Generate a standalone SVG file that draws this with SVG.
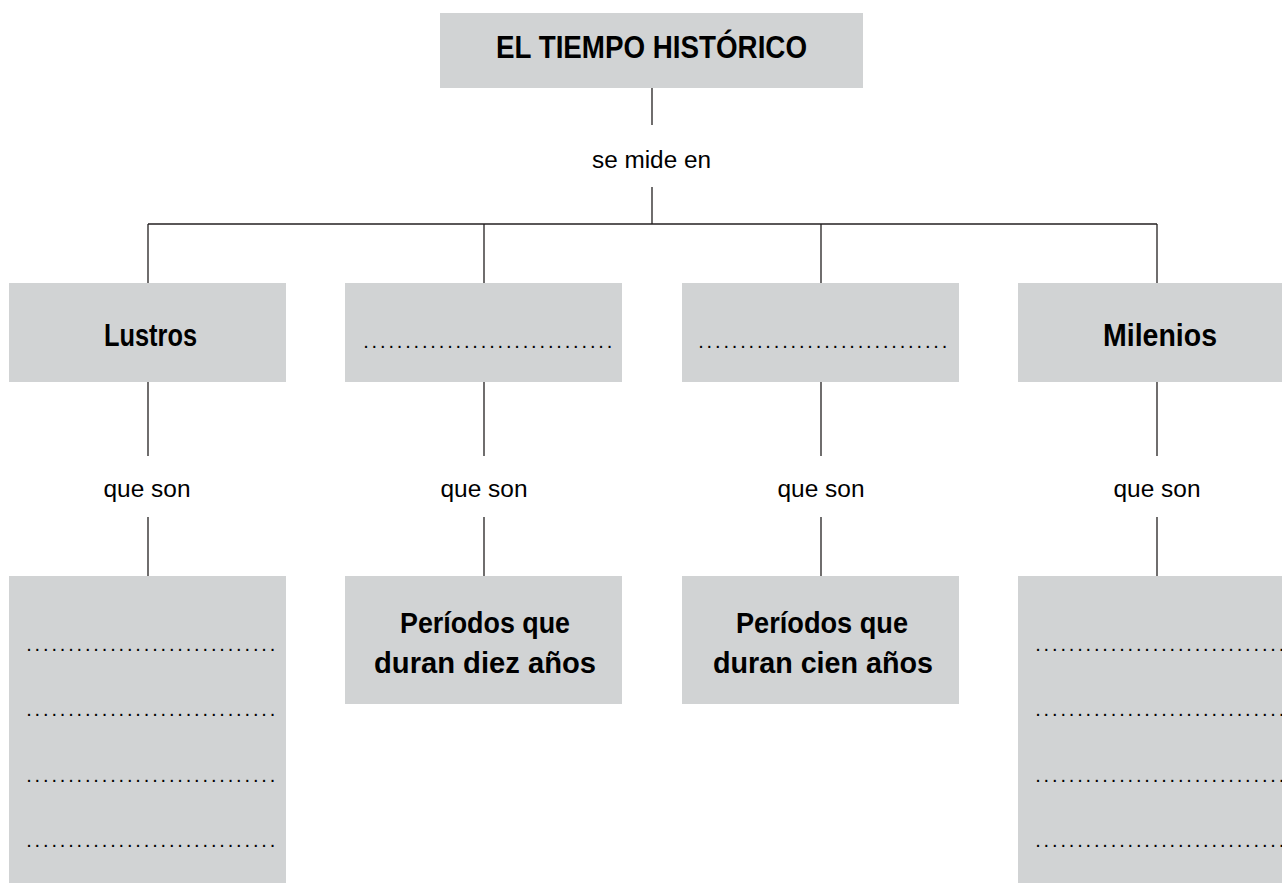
<svg xmlns="http://www.w3.org/2000/svg" width="1282" height="883" viewBox="0 0 1282 883">
<style>
.box{fill:#d1d3d4}
.ln{stroke:#231f20;stroke-width:1.3;fill:none}
.b{font-family:"Liberation Sans",Arial,sans-serif;font-weight:bold;fill:#000;text-anchor:middle}
.r{font-family:"Liberation Sans",Arial,sans-serif;font-size:23px;fill:#000;text-anchor:middle}
.dots{font-family:"Liberation Sans",Arial,sans-serif;font-size:20px;fill:#000;letter-spacing:2.84px}
</style>
<rect width="1282" height="883" fill="#fff"/>
<g id="connectors">
<line class="ln" x1="652" y1="88" x2="652" y2="125"/>
<line class="ln" x1="652" y1="187" x2="652" y2="224"/>
<line class="ln" x1="148" y1="224" x2="1157" y2="224"/>
<line class="ln" x1="148" y1="224" x2="148" y2="283"/>
<line class="ln" x1="484" y1="224" x2="484" y2="283"/>
<line class="ln" x1="821" y1="224" x2="821" y2="283"/>
<line class="ln" x1="1157" y1="224" x2="1157" y2="283"/>
<line class="ln" x1="148" y1="382" x2="148" y2="456"/>
<line class="ln" x1="484" y1="382" x2="484" y2="456"/>
<line class="ln" x1="821" y1="382" x2="821" y2="456"/>
<line class="ln" x1="1157" y1="382" x2="1157" y2="456"/>
<line class="ln" x1="148" y1="517" x2="148" y2="576"/>
<line class="ln" x1="484" y1="517" x2="484" y2="576"/>
<line class="ln" x1="821" y1="517" x2="821" y2="576"/>
<line class="ln" x1="1157" y1="517" x2="1157" y2="576"/>
<text class="r" x="651.5" y="168" textLength="119" lengthAdjust="spacingAndGlyphs">se mide en</text>
<text class="r" x="147" y="497" textLength="87" lengthAdjust="spacingAndGlyphs">que son</text>
<text class="r" x="484" y="497" textLength="87" lengthAdjust="spacingAndGlyphs">que son</text>
<text class="r" x="821" y="497" textLength="87" lengthAdjust="spacingAndGlyphs">que son</text>
<text class="r" x="1157" y="497" textLength="87" lengthAdjust="spacingAndGlyphs">que son</text>
</g>
<g id="root">
<rect class="box" x="440" y="13" width="423" height="75"/>
<text class="b" x="651.5" y="58" font-size="31" textLength="311" lengthAdjust="spacingAndGlyphs">EL TIEMPO HISTÓRICO</text>
</g>
<g id="lustros">
<rect class="box" x="9" y="283" width="277" height="99"/>
<text class="b" x="150.5" y="346" font-size="31" textLength="93" lengthAdjust="spacingAndGlyphs">Lustros</text>
</g>
<g id="decadas">
<rect class="box" x="345" y="283" width="277" height="99"/>
<text class="dots" x="363.2" y="348">..............................</text>
</g>
<g id="siglos">
<rect class="box" x="682" y="283" width="277" height="99"/>
<text class="dots" x="698.2" y="348">..............................</text>
</g>
<g id="milenios">
<rect class="box" x="1018" y="283" width="264" height="99"/>
<text class="b" x="1160" y="346" font-size="31" textLength="114" lengthAdjust="spacingAndGlyphs">Milenios</text>
</g>
<g id="lustros-def">
<rect class="box" x="9" y="576" width="277" height="307"/>
<text class="dots" x="26.2" y="651">..............................</text>
<text class="dots" x="26.2" y="716.3">..............................</text>
<text class="dots" x="26.2" y="781.7">..............................</text>
<text class="dots" x="26.2" y="847">..............................</text>
</g>
<g id="decadas-def">
<rect class="box" x="345" y="576" width="277" height="128"/>
<text class="b" x="485" y="633" font-size="30" textLength="170" lengthAdjust="spacingAndGlyphs">Períodos que</text>
<text class="b" x="485" y="673" font-size="30" textLength="222" lengthAdjust="spacingAndGlyphs">duran diez años</text>
</g>
<g id="siglos-def">
<rect class="box" x="682" y="576" width="277" height="128"/>
<text class="b" x="822" y="633" font-size="30" textLength="172" lengthAdjust="spacingAndGlyphs">Períodos que</text>
<text class="b" x="823" y="673" font-size="30" textLength="220" lengthAdjust="spacingAndGlyphs">duran cien años</text>
</g>
<g id="milenios-def">
<rect class="box" x="1018" y="576" width="264" height="307"/>
<text class="dots" x="1035.2" y="651">..............................</text>
<text class="dots" x="1035.2" y="716.3">..............................</text>
<text class="dots" x="1035.2" y="781.7">..............................</text>
<text class="dots" x="1035.2" y="847">..............................</text>
</g>
</svg>
